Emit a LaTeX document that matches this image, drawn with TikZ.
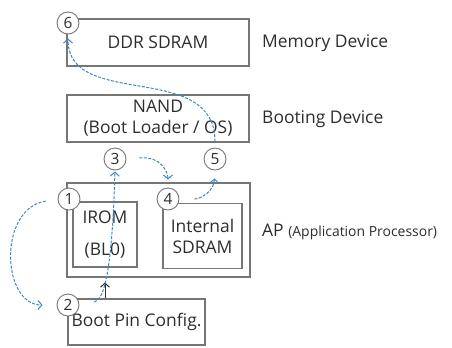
\documentclass[tikz,border=0pt]{standalone}
\usepackage{fontspec}
\setmainfont{Open Sans}
\usepackage{xcolor}
\definecolor{bootgray}{RGB}{118,118,118}
\definecolor{boottext}{RGB}{45,45,45}
\definecolor{bootblue}{RGB}{60,135,200}
\usetikzlibrary{arrows.meta,positioning}
\tikzset{
  box/.style={draw=bootgray,line width=1.1pt,fill=white,inner sep=0pt,
              text=boottext,font=\fontsize{17.5}{21}\selectfont,align=center},
  num/.style={circle,draw=bootgray,line width=0.9pt,fill=white,inner sep=0pt,
              minimum size=22bp,text=boottext,font=\fontsize{15.5}{15.5}\selectfont},
  tag/.style={anchor=west,inner sep=0pt,text=boottext,font=\fontsize{17.5}{17.5}\selectfont},
  flow/.style={draw=bootblue,line width=1pt,dash pattern=on 3pt off 1.5pt,
               -{Straight Barb[length=4pt,width=9pt]}},
  pinarrow/.style={draw=boottext,line width=1pt,-{Straight Barb[length=4pt,width=9pt]}}
}

\begin{document}
\begin{tikzpicture}[x=1bp,y=-1bp]
  \useasboundingbox (0,0) rectangle (452,347);

  %% Memory device
  \node[box,minimum width=182bp,minimum height=47bp] (ddr) at (158,42.5) {DDR SDRAM};
  \node[tag] (memlbl) at (262,43) {Memory Device};

  %% Booting device
  \node[box,minimum width=182bp,minimum height=47bp] (nand) at (158,118.5)
        {NAND\\(Boot Loader / OS)};
  \node[tag] (bootlbl) at (262,119) {Booting Device};

  %% Application processor
  \node[box,minimum width=183bp,minimum height=94bp] (ap) at (158.5,230) {};
  \node[box,minimum width=64bp,minimum height=65bp] (irom) at (105,234.5)
        {IROM\\[11bp](BL0)};
  \node[box,minimum width=79bp,minimum height=65bp] (isdram) at (202.5,236)
        {Internal\\SDRAM};
  \node[tag] (aplbl) at (262,232) {AP \fontsize{14}{14}\selectfont(Application Processor)};

  %% Boot pin
  \node[box,minimum width=137bp,minimum height=46bp] (bootpin) at (136.5,322)
        {Boot Pin Config.};

  %% Step numbers
  \node[num] (c1) at (69,199) {1};
  \node[num] (c2) at (68,305) {2};
  \node[num] (c3) at (115,159) {3};
  \node[num] (c4) at (168,199) {4};
  \node[num] (c5) at (215,159) {5};
  \node[num] (c6) at (68,23) {6};

  %% Boot flow
  \draw[pinarrow,shorten >=5bp] (bootpin.north -| irom) -- (ap.south -| irom);
  \draw[flow,shorten <=12bp,shorten >=14bp] (c1.west) .. controls +(-60,10) and +(-55,0) .. (c2.west);
  \draw[flow,shorten <=15bp,shorten >=1bp] (c2.east) .. controls +(25,-5) and +(-3,100) .. (c3.south);
  \draw[flow,shorten <=13bp,shorten >=8bp] (c3.east) .. controls +(35,-3) and +(0,-15) .. (c4.north);
  \draw[flow,shorten <=15bp,shorten >=8bp] (c4.east) .. controls +(22,0) and +(-1,20) .. (c5.south);
  \draw[flow,shorten <=6bp,shorten >=4bp] (c5.north) .. controls +(0,-88) and +(0,76) .. (c6.south);
\end{tikzpicture}
\end{document}
